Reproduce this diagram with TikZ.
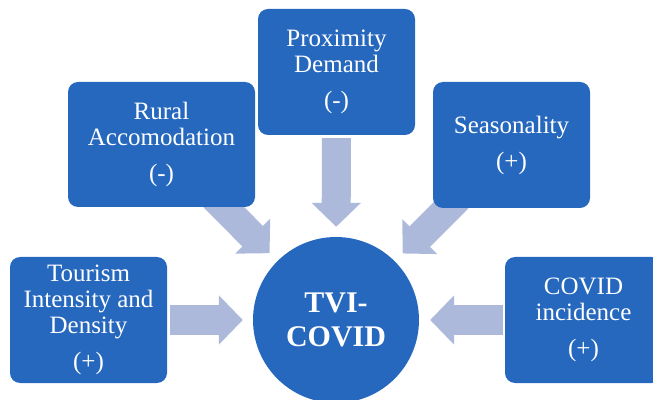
\documentclass[tikz,border=0pt]{standalone}
\usepackage{fontspec}
\setmainfont{Liberation Serif}
\usetikzlibrary{arrows.meta,backgrounds}
\definecolor{boxblue}{HTML}{2668BE}
\definecolor{arrowblue}{HTML}{ADB9DB}

\begin{document}
\begin{tikzpicture}[x=1pt, y=1pt,
                    factor/.style={fill=boxblue, rounded corners=10pt, inner sep=0pt, minimum width=157pt, minimum height=126pt, align=center, text=white, font=\fontsize{25}{26}\selectfont},
                    target/.style={circle, fill=boxblue, minimum size=166pt, inner sep=0pt, align=center, text=white, font=\fontsize{30}{34}\selectfont\bfseries},
                    feeds/.style={draw=arrowblue, line width=29pt, -{Triangle[length=24pt,width=48pt]}}
]
\useasboundingbox (0,0) rectangle (653,399);

\node [target] at (336,79) (tvi) {TVI-\\COVID};
%
\node [factor] at (88.5,79) (tourism) {Tourism\\Intensity and\\Density\\[10pt](+)};
\node [factor, minimum width=187pt, minimum height=125pt] at (161.5,254.5) (rural) {Rural\\Accomodation\\[10pt](-)};
\node [factor] at (336.5,327) (proximity) {Proximity\\Demand\\[10pt](-)};
\node [factor] at (511.5,254) (season) {Seasonality\\[10pt](+)};
\node [factor] at (583.5,79) (incidence) {COVID\\incidence\\[10pt](+)};

\begin{pgfonlayer}{background}
\draw [feeds, shorten <=3pt, shorten >=10pt] (tourism) -- (tvi);
\draw [feeds, shorten <=-14pt, shorten >=11pt] (rural) -- (tvi);
\draw [feeds, shorten <=3pt, shorten >=10pt] (proximity) -- (tvi);
\draw [feeds, shorten <=-14pt, shorten >=11pt] (season) -- (tvi);
\draw [feeds, shorten <=2pt, shorten >=11pt] (incidence) -- (tvi);
\end{pgfonlayer}
\end{tikzpicture}
\end{document}
